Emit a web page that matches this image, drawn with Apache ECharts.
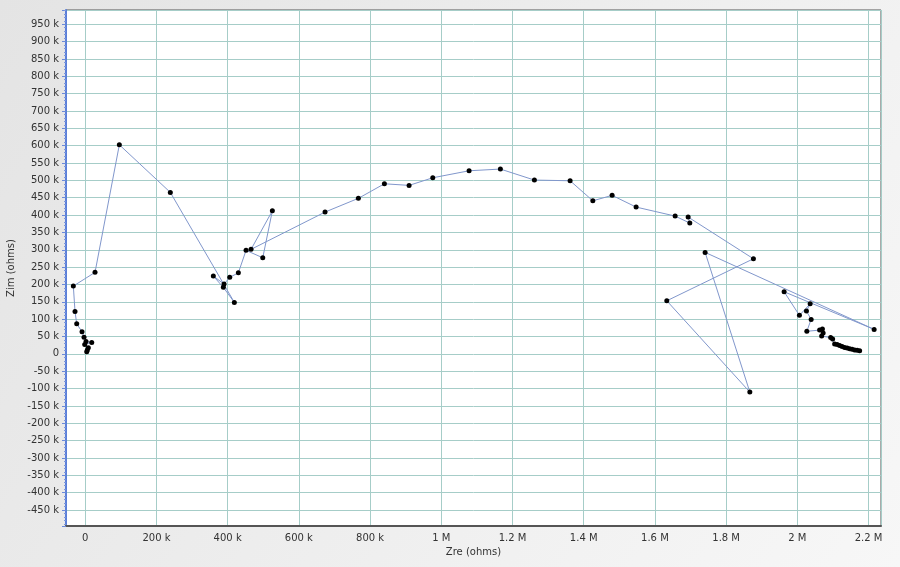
<!DOCTYPE html>
<html>
<head>
<meta charset="utf-8">
<script src="https://cdn.jsdelivr.net/npm/echarts@6/dist/echarts.min.js"></script>
<style>
html,body{margin:0;padding:0;}
#chart{width:900px;height:567px;}
</style>
</head>
<body>
<div id="chart"></div>
<script>
// Impedance data (ohms), in measurement order
var zre = [4200, 5900, 8700, -1400, 18300, 2200, -3400, -9000, -23900, -28700, -33400, 27500,
  95800, 239000, 418800, 387900, 359800, 389900, 405900, 430100, 451700, 498600, 525600, 465700,
  673600, 767100, 840200, 909600, 976100, 1078100, 1166000, 1261500, 1361800, 1425600, 1479800,
  1547200, 1656800, 1698000, 1693300, 1876700, 1633400, 1866600, 1741000, 2215700, 1962900,
  2005900, 2036000, 2025600, 2038800, 2026700, 2062600, 2070500, 2072500, 2068300, 2093600,
  2099200, 2104800, 2111800, 2118800, 2125800, 2132800, 2139900, 2146900, 2153900, 2160900,
  2168000, 2175000];
var zim = [6100, 11000, 17600, 27400, 33100, 36000, 47600, 63700, 86700, 122500, 195400, 234900,
  602600, 465400, 148400, 191700, 224200, 201200, 220500, 233700, 298300, 277000, 412400, 301200,
  408700, 448200, 490200, 485600, 507500, 527700, 532600, 500900, 498900, 441200, 456800,
  423100, 397100, 377000, 394300, 274100, 153000, -110100, 292500, 70600, 179000,
  111000, 144400, 123300, 99400, 65100, 68600, 71500, 59900, 51300, 47000,
  42700, 28200, 26800, 23900, 21000, 18700, 16700, 14700, 13000, 11500,
  10400, 8900];
var xName = 'Zre (ohms)';
var yName = 'Zim (ohms)';

var points = zre.map(function (x, i) { return [x, zim[i]]; });

function fmt(v) {
  if (v === 0) return '0';
  if (Math.abs(v) >= 1e6) return parseFloat((v / 1e6).toFixed(3)) + ' M';
  return parseFloat((v / 1000).toFixed(3)) + ' k';
}

var chart = echarts.init(document.getElementById('chart'));
var labelFont = { fontFamily: 'DejaVu Sans', fontSize: 10, color: '#333' };
chart.setOption({
  animation: false,
  backgroundColor: new echarts.graphic.LinearGradient(0, 0, 1, 1, [
    { offset: 0, color: '#e4e4e4' }, { offset: 1, color: '#f7f7f7' }
  ]),
  grid: {
    left: 66, right: 19, top: 10, bottom: 41,
    containLabel: false, outerBoundsMode: 'none',
    show: true, backgroundColor: '#ffffff', borderColor: '#555555', borderWidth: 1
  },
  xAxis: {
    type: 'value',
    min: -54000, max: 2235000, splitNumber: 11,
    name: xName, nameLocation: 'middle', nameGap: 13,
    nameTextStyle: { fontFamily: 'DejaVu Sans', fontSize: 10, color: '#333' },
    axisLine: { show: true, onZero: false, lineStyle: { color: '#555555', width: 2 } },
    axisTick: { show: false },
    axisLabel: Object.assign({ formatter: fmt, margin: 7, showMinLabel: false, showMaxLabel: false }, labelFont),
    splitLine: { show: true, lineStyle: { color: '#a6cdc8', width: 1 } }
  },
  yAxis: {
    type: 'value',
    min: -496000, max: 991000, splitNumber: 30,
    name: yName, nameLocation: 'middle', nameGap: 47, nameRotate: 90,
    nameTextStyle: { fontFamily: 'DejaVu Sans', fontSize: 10, color: '#333' },
    axisLine: { show: true, onZero: false, lineStyle: { color: '#5b7fd8', width: 2 } },
    axisTick: { show: true, length: 4, lineStyle: { color: '#6b8ad8' } },
    minorTick: { show: true, splitNumber: 5, length: 2, lineStyle: { color: '#7b96dc' } },
    axisLabel: Object.assign({ formatter: fmt, margin: 7, showMinLabel: false, showMaxLabel: false }, labelFont),
    splitLine: { show: true, lineStyle: { color: '#a6cdc8', width: 1 } }
  },
  series: [{
    type: 'line',
    data: points,
    symbol: 'circle',
    symbolSize: 5,
    showAllSymbol: true,
    itemStyle: { color: '#000000' },
    lineStyle: { color: '#8197cc', width: 1 }
  }]
});
</script>
</body>
</html>
